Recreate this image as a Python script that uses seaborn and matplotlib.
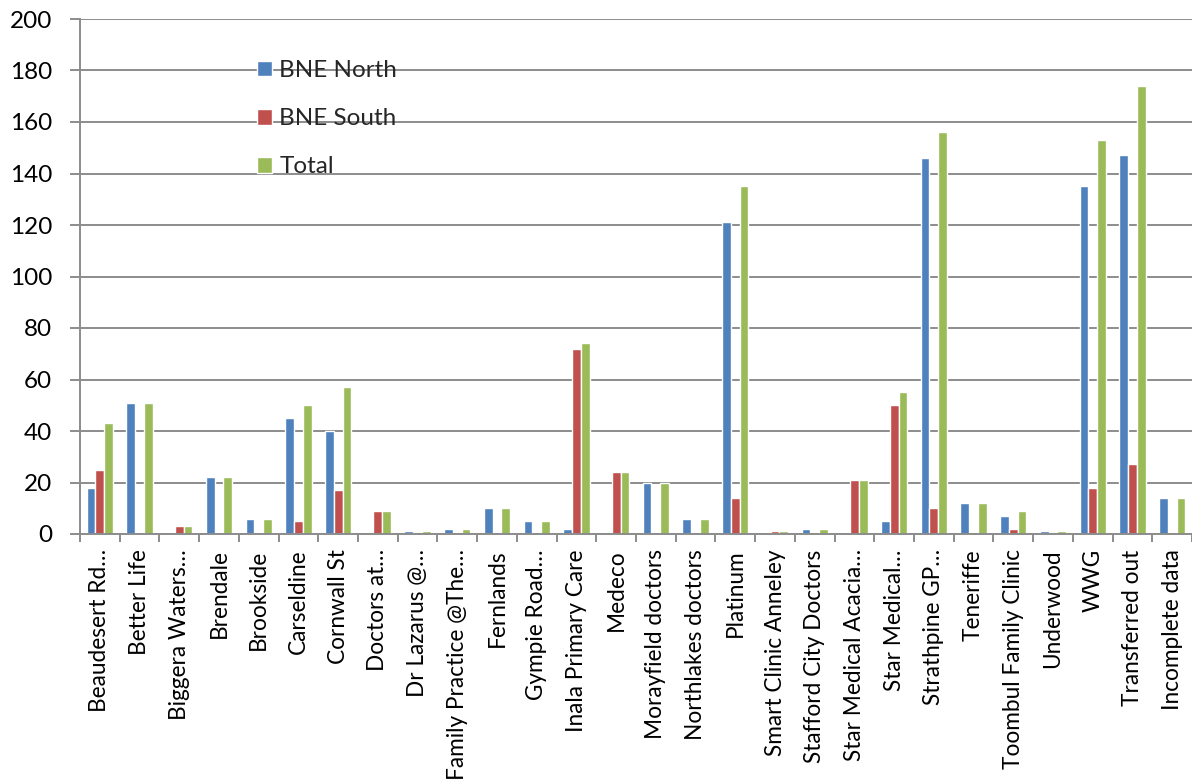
import matplotlib
matplotlib.use("Agg")
import matplotlib.pyplot as plt
import seaborn as sns
import pandas as pd
import numpy as np

categories = [
    "Beaudesert Rd…", "Better Life", "Biggera Waters…", "Brendale", "Brookside",
    "Carseldine", "Cornwall St", "Doctors at…", "Dr Lazarus @…",
    "Family Practice @The…", "Fernlands", "Gympie Road…", "Inala Primary Care",
    "Medeco", "Morayfield doctors", "Northlakes doctors", "Platinum",
    "Smart Clinic Anneley", "Stafford City Doctors", "Star Medical Acacia…",
    "Star Medical…", "Strathpine GP…", "Teneriffe", "Toombul Family Clinic",
    "Underwood", "WWG", "Transferred out", "Incomplete data",
]
bne_north = [18, 51, 0, 22, 6, 45, 40, 0, 1, 2, 10, 5, 2, 0, 20, 6, 121, 0, 2, 0, 5, 146, 12, 7, 1, 135, 147, 14]
bne_south = [25, 0, 3, 0, 0, 5, 17, 9, 0, 0, 0, 0, 72, 24, 0, 0, 14, 1, 0, 21, 50, 10, 0, 2, 0, 18, 27, 0]
total = [43, 51, 3, 22, 6, 50, 57, 9, 1, 2, 10, 5, 74, 24, 20, 6, 135, 1, 2, 21, 55, 156, 12, 9, 1, 153, 174, 14]
series_names = ["BNE North", "BNE South", "Total"]
colors = ["#4F81BD", "#C0504D", "#9BBB59"]
y_ticks = list(range(0, 201, 20))

df = pd.DataFrame({
    "Practice": categories * 3,
    "Series": [series_names[0]] * len(categories) + [series_names[1]] * len(categories) + [series_names[2]] * len(categories),
    "Count": bne_north + bne_south + total,
})

sns.set_theme(style="white")
plt.rcParams['font.family'] = ['Lato', 'DejaVu Sans']

W, H = 1192, 783
fig = plt.figure(figsize=(W / 100, H / 100), dpi=100)
ax = fig.add_axes([80 / W, 1 - 534 / H, 1112 / W, 515 / H])

sns.barplot(data=df, x="Practice", y="Count", hue="Series", order=categories,
            hue_order=series_names, palette=colors, saturation=1, width=0.66,
            gap=0, ax=ax, errorbar=None)

grid_c = "#8c8c8c"
ax.set_ylim(0, 200)
ax.set_xlim(-0.5, len(categories) - 0.5)
ax.set_yticks(y_ticks)
ax.yaxis.grid(True, color=grid_c, linewidth=1.4)
ax.xaxis.grid(False)
ax.set_axisbelow(True)
ax.set_xlabel("")
ax.set_ylabel("")

for s in ["top", "right"]:
    ax.spines[s].set_visible(False)
for s in ["left", "bottom"]:
    ax.spines[s].set_color(grid_c)
    ax.spines[s].set_linewidth(1.4)

ax.tick_params(axis="y", length=7, width=1.4, color=grid_c, direction="out",
               labelsize=17.5, pad=13, left=True)
ax.tick_params(axis="x", which="major", length=0, labelsize=16.3, pad=11, rotation=90)
ax.set_xticks(np.arange(-0.5, len(categories), 1), minor=True)
ax.tick_params(axis="x", which="minor", length=6, width=1.4, color=grid_c,
               direction="out", bottom=True)
for lab in ax.get_yticklabels() + ax.get_xticklabels():
    lab.set_color("black")

handles, labels = ax.get_legend_handles_labels()
ax.legend(handles, labels, loc="upper left", bbox_to_anchor=(257 / W, 1 - 60 / H),
          bbox_transform=fig.transFigure, frameon=False, fontsize=17.5,
          handlelength=0.62, handleheight=0.62, handletextpad=0.3,
          labelspacing=1.12, borderpad=0, borderaxespad=0)

fig.savefig("out.png", dpi=100)
